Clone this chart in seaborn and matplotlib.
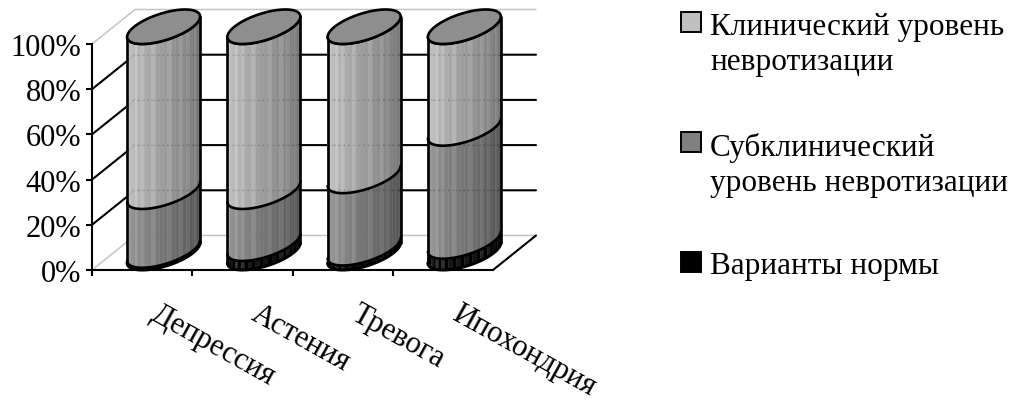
import numpy as np
import pandas as pd
import seaborn as sns
import matplotlib
matplotlib.use("Agg")
import matplotlib.pyplot as plt
from matplotlib.patches import Rectangle
from matplotlib.transforms import ScaledTranslation

categories = ["Депрессия", "Астения", "Тревога", "Ипохондрия"]
norma = [1, 4, 2, 5]
subklin = [26, 23, 32, 50]
klin = [73, 73, 66, 45]
series_names = ["Клинический уровень\nневротизации", "Субклинический\nуровень невротизации", "Варианты нормы"]
y_ticks = [0, 20, 40, 60, 80, 100]
y_labels = ["0%", "20%", "40%", "60%", "80%", "100%"]

W, H = 1015, 402
sns.set_style("white")
plt.rcParams["font.family"] = ["Liberation Serif", "DejaVu Serif"]
plt.rcParams["text.color"] = "black"
plt.rcParams["xtick.color"] = "black"
plt.rcParams["ytick.color"] = "black"
FS = 22.5

fig = plt.figure(figsize=(W / 100, H / 100), dpi=100)
ax = fig.add_axes([92 / W, 1 - 271 / H, 401 / W, 226 / H])

# глубина 3D: сдвиг задней стенки в единицах осей
DX = 43 / 100.25
DY = 34.5 / 2.26
BAR_W = 0.728

cum1 = np.array(norma)
cum2 = cum1 + np.array(subklin)
cum3 = cum2 + np.array(klin)
df = pd.DataFrame({
    "cat": categories * 3,
    "top": list(cum3) + list(cum2) + list(cum1),
    "ser": ["klin"] * 4 + ["sub"] * 4 + ["norm"] * 4,
})
# столбцы считает seaborn, цилиндры строятся по их геометрии
sns.barplot(data=df, x="cat", y="top", hue="ser", dodge=False, width=BAR_W, order=categories,
            palette=["#c0c0c0", "#808080", "#000000"], legend=False, ax=ax)
ax.set_xlim(-0.5, 3.5)
ax.set_ylim(0, 100)
ax.set_xlabel("")
ax.set_ylabel("")

LW = 1.5
LW2 = 1.9
# стенки и сетка
for v in y_ticks:
    if v in (0, 100):
        ax.plot([-0.5, -0.5 + DX, 3.5 + DX], [v, v + DY, v + DY], color="#c4c4c4", lw=1.1, clip_on=False, zorder=1)
    else:
        ax.plot([-0.5, -0.5 + DX, 3.5 + DX], [v, v + DY, v + DY], color="black", lw=LW, clip_on=False, zorder=1)
ax.plot([3.5, 3.5 + DX], [0, DY], color="black", lw=LW, clip_on=False, zorder=1)

ribs = [0, 0, .07, 0, 0, 0, .06, 0, .05, 0, 0, .06, 0, 0, 0, .05, 0, 0, .05, 0, .04, 0, 0, .04, 0, 0, .03, 0]
shades = {"klin": (0.80, 0.42), "sub": (0.62, 0.29), "norm": (0.13, 0.02)}
order = ["norm", "sub", "klin"]


def arc(cx, y, rx, ts):
    return cx + rx * np.cos(ts) + 0.5 * DX * np.sin(ts), y + 0.5 * DY * np.sin(ts)


for col in range(len(categories)):
    tops = {}
    for cont, name in zip(ax.containers, ["klin", "sub", "norm"]):
        tops[name] = cont[col]
    b = tops["klin"]
    half = b.get_width() / 2
    cx = b.get_x() + half + DX / 2
    rx = np.sqrt(half ** 2 - (DX / 2) ** 2)
    t0 = np.arctan2(DX / 2, rx)
    ts = np.linspace(t0 + np.pi, t0 + 2 * np.pi, len(ribs) + 1)
    y_low = DY / 2
    for name in order:
        y_high = tops[name].get_height() + DY / 2
        g0, g1 = shades[name]
        for k in range(len(ribs)):
            u = (k + 0.5) / len(ribs)
            g = g0 + (g1 - g0) * u + ribs[k] * (1.6 if name == "norm" else 1)
            if name == "norm" and k % 2:
                g = 0.0
            tt = ts[k:k + 2]
            x0, y0 = arc(cx, y_low, rx, tt)
            x1, y1 = arc(cx, y_high, rx, tt)
            ax.fill(np.r_[x0, x1[::-1]], np.r_[y0, y1[::-1]], color=str(min(g, 1)), lw=0.3, clip_on=False, zorder=3)
        # граница сегмента
        tf = np.linspace(ts[0], ts[-1], 80)
        xa, ya = arc(cx, y_high, rx, tf)
        ax.plot(xa, ya, color="black", lw=LW2, clip_on=False, zorder=4)
        y_low = y_high
    # сетка чуть просвечивает сквозь столбец
    for v in y_ticks[1:-1]:
        ax.plot([cx - half, cx + half], [v + DY, v + DY], color="black", lw=0.9, alpha=0.2,
                ls=(0, (1, 3)), clip_on=False, zorder=4)
    # низ и боковые линии
    tf = np.linspace(ts[0], ts[-1], 80)
    xa, ya = arc(cx, DY / 2, rx, tf)
    ax.plot(xa, ya, color="black", lw=LW2 + 0.3, clip_on=False, zorder=5)
    yt = b.get_height() + DY / 2
    xl, yl = arc(cx, DY / 2, rx, np.array([ts[0], ts[-1]]))
    xu, yu = arc(cx, yt, rx, np.array([ts[0], ts[-1]]))
    ax.plot([xl[0], xu[0]], [yl[0], yu[0]], color="black", lw=LW2, clip_on=False, zorder=5)
    ax.plot([xl[1], xu[1]], [yl[1], yu[1]], color="black", lw=LW2, clip_on=False, zorder=5)
    # верхний эллипс
    tc = np.linspace(0, 2 * np.pi, 120)
    xe, ye = arc(cx, yt, rx, tc)
    ax.fill(xe, ye, facecolor="#8e8e8e", edgecolor="black", lw=LW2, clip_on=False, zorder=6)

for cont in ax.containers:
    for b in cont:
        b.set_visible(False)

for s in ["top", "right"]:
    ax.spines[s].set_visible(False)
for s in ["left", "bottom"]:
    ax.spines[s].set_color("black")
    ax.spines[s].set_linewidth(LW)
    ax.spines[s].set_zorder(7)

ax.set_yticks(y_ticks, y_labels, fontsize=22)
ax.set_xticks([-0.5, 0.5, 1.5, 2.5], ["", "", "", ""])
ax.set_xticks(range(len(categories)), categories, minor=True, fontsize=22, rotation=-29,
              ha="left", rotation_mode="anchor")
ax.tick_params(axis="both", which="major", length=4.3, width=LW, color="black", left=True, bottom=True, pad=3.5)
ax.tick_params(axis="x", which="minor", length=0, pad=20.5)
offs = ScaledTranslation(13 / 72, 0, fig.dpi_scale_trans)
for lab in ax.get_xticklabels(minor=True):
    lab.set_transform(lab.get_transform() + offs)
ax.patch.set_alpha(0)

# легенда справа
swatches = ["#c0c0c0", "#808080", "#000000"]
sw_top = [13, 133, 253]
txt_base = [70, 191, 274]
for nm, c, st, tb in zip(series_names, swatches, sw_top, txt_base):
    fig.add_artist(Rectangle((681 / W, 1 - (st + 20) / H), 20 / W, 20 / H, transform=fig.transFigure,
                             facecolor=c, edgecolor="black", lw=1.4))
    fig.text(710 / W, 1 - tb / H, nm, fontsize=FS, va="baseline", ha="left", linespacing=1.29, color="black")

fig.savefig("out.png", dpi=100, facecolor="white")
